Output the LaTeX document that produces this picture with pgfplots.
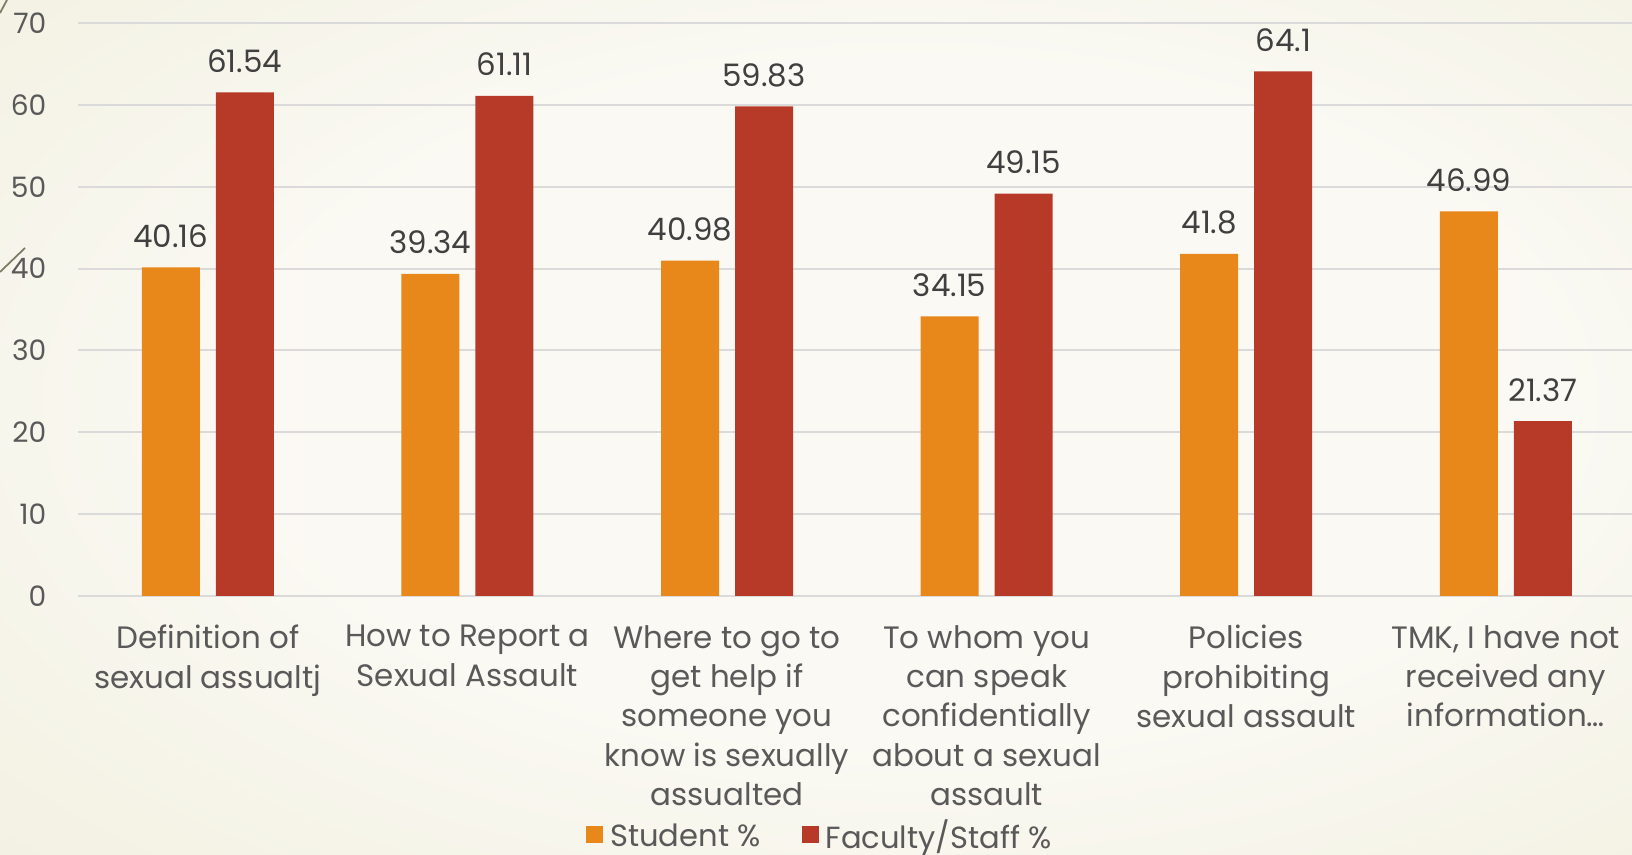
\documentclass[border=0pt]{standalone}
\usepackage{fontspec}
\setmainfont{Poppins}
\usepackage{pgfplots}
\pgfplotsset{compat=1.18}

\definecolor{student}{HTML}{E8871A}
\definecolor{staff}{HTML}{B63A27}
\definecolor{gridc}{HTML}{DADADA}
\definecolor{labelc}{HTML}{595959}
\definecolor{valuec}{HTML}{404040}
\definecolor{bgin}{HTML}{FAF9F3}
\definecolor{bgout}{HTML}{EBE8CF}
\definecolor{deco}{HTML}{7C7C66}

\pgfdeclareradialshading{slide}{\pgfpoint{4bp}{2bp}}{%
  color(0bp)=(bgin); color(20bp)=(bgin); color(48bp)=(bgout!75!bgin); color(72bp)=(bgout)}

\begin{document}
\begin{tikzpicture}
\useasboundingbox (0,0) rectangle (16.32cm,8.55cm);
\shade[shading=slide] (0,0) rectangle (16.32cm,8.55cm);
% slide decoration at the left edge
\draw[deco, line width=0.5pt] (0,5.83cm) -- (0.25cm,6.07cm);
\draw[deco, line width=0.5pt] (0,8.42cm) -- (0.07cm,8.55cm);

\begin{axis}[
    at={(0.78cm,2.59cm)}, anchor=south west,
    scale only axis,
    width=15.54cm, height=5.73cm,
    ybar=0.16cm, bar width=0.58cm,
    xmin=-0.5, xmax=5.486,
    ymin=0, ymax=70,
    xtick={0,...,5},
    xticklabels={
      {Definition of\\sexual assualtj},
      {How to Report a\\Sexual Assault},
      {Where to go to\\get help if\\someone you\\know is sexually\\assualted},
      {To whom you\\can speak\\confidentially\\about a sexual\\assault},
      {Policies\\prohibiting\\sexual assault},
      {TMK, I have not\\received any\\information\ldots}
    },
    ytick={0,10,...,70},
    ymajorgrids,
    major grid style={gridc, line width=0.6pt},
    axis line style={draw=none},
    major tick length=0pt,
    /pgf/number format/assume math mode=true,
    xticklabel style={anchor=north, inner sep=0pt, yshift=-0.285cm, align=center,
      font=\fontsize{8.8}{11.2}\selectfont, text=labelc},
    yticklabel style={anchor=east, inner sep=0pt, xshift=-0.31cm,
      font=\fontsize{8}{9.6}\selectfont, text=labelc},
    nodes near coords,
    every node near coord/.append style={anchor=base, inner sep=0pt, yshift=0.2cm,
      font=\fontsize{8.8}{10}\selectfont, text=valuec},
    clip=false,
    legend columns=2,
    legend style={draw=none, fill=none, at={(0.479,-0.42)}, anchor=center,
      font=\fontsize{8.7}{10.5}\selectfont, text=labelc,
      /tikz/every even column/.append style={column sep=0.34cm}},
    legend image code/.code={\fill[#1] (0cm,-0.065cm) rectangle (0.17cm,0.105cm);},
]
\addplot[fill=student, draw=none] coordinates {
  (0,40.16) (1,39.34) (2,40.98) (3,34.15) (4,41.8) (5,46.99)};
\addplot[fill=staff, draw=none] coordinates {
  (0,61.54) (1,61.11) (2,59.83) (3,49.15) (4,64.1) (5,21.37)};
\legend{Student \%\strut, Faculty/Staff \%\strut}
\end{axis}
\end{tikzpicture}
\end{document}
